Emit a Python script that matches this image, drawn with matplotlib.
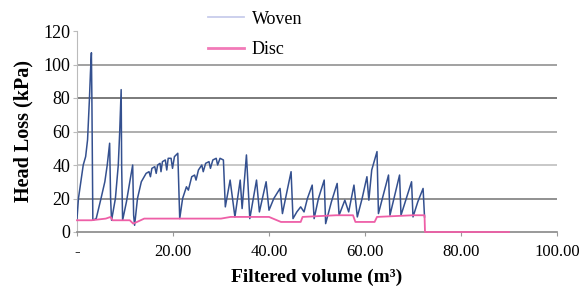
import matplotlib.pyplot as plt
from matplotlib.lines import Line2D

plt.rcParams["font.family"] = ["Liberation Serif", "DejaVu Serif"]

# Woven filter head loss (kPa) vs filtered volume (m3)
woven_x = [0.0, 0.3, 0.8, 1.3, 1.8, 2.2, 2.6, 2.8, 3.0, 3.1, 3.3,
           4.0, 5.0, 5.8, 6.3, 6.8, 7.0, 7.2,
           8.0, 8.6, 8.9, 9.2, 9.3, 9.5,
           10.3, 11.0, 11.6, 11.8, 12.0,
           12.6, 13.4, 14.4, 15.0, 15.3, 15.6, 16.2, 16.5, 16.8, 17.3, 17.5,
           17.8, 18.4, 18.7, 19.0, 19.6, 19.9, 20.3, 21.0, 21.4,
           22.0, 22.8, 23.2, 23.9, 24.5, 24.8, 25.3, 26.0, 26.3, 26.8, 27.5,
           27.8, 28.3, 29.0, 29.3, 29.8, 30.5, 30.9,
           31.9, 32.9, 34.0, 34.4, 35.3, 36.0, 37.4, 38.0, 39.4, 40.0,
           41.0, 42.3, 42.8, 43.8, 44.6, 45.0, 45.8, 46.6, 47.3, 48.0, 49.0,
           49.4, 50.3, 51.5, 51.8, 53.0, 54.2, 54.6, 55.8, 56.6, 57.7,
           58.4, 59.4, 60.4, 60.8, 61.4, 62.5, 62.8, 63.8, 64.9, 65.2, 66.2,
           67.2, 67.5, 68.6, 69.7, 70.0, 71.0, 72.1, 72.4]
woven_y = [8, 20, 30, 40, 45, 55, 80, 95, 107, 80, 7,
           8, 20, 30, 40, 53, 20, 7,
           20, 40, 60, 85, 40, 7,
           18, 30, 40, 10, 4,
           20, 30, 35, 36, 33, 38, 39, 35, 40, 41, 36,
           42, 43, 37, 44, 44, 38, 45, 47, 8,
           20, 27, 25, 33, 34, 31, 37, 40, 36, 41, 42,
           38, 43, 44, 40, 44, 43, 15,
           31, 9, 31, 14, 46, 8, 31, 12, 30, 13,
           20, 26, 11, 25, 36, 8, 12, 15, 12, 20, 28,
           8, 20, 31, 5, 18, 29, 10, 19, 12, 28,
           9, 20, 33, 19, 37, 48, 11, 22, 34, 10, 22,
           34, 10, 20, 30, 9, 18, 26, 9]

# Disc filter head loss
disc_x = [0.0, 3.0, 6.0, 7.0, 7.4, 11.0, 11.7, 12.5, 14.0, 20.0, 30.0,
          32.0, 40.0, 42.5, 46.6, 47.0, 54.0, 57.5, 58.0, 62.0, 62.5,
          70.0, 72.4, 72.5, 90.0]
disc_y = [7, 7, 8, 9, 7, 7, 5, 6, 8, 8, 8,
          9, 9, 6, 6, 9, 10, 10, 6, 6, 9,
          10, 10, 0, 0]

xticks = [0, 20, 40, 60, 80, 100]
xtick_labels = ["-", "20.00", "40.00", "60.00", "80.00", "100.00"]
yticks = [0, 20, 40, 60, 80, 100, 120]

fig = plt.figure(figsize=(5.88, 2.87), dpi=100)
ax = fig.add_axes([77 / 588, 1 - 232 / 287, 480 / 588, 201 / 287])

ax.plot(disc_x, disc_y, color="#ee5fa7", linewidth=1.3, zorder=5, clip_on=False)
ax.plot(woven_x, woven_y, color="#34508f", linewidth=1.1, zorder=4)

ax.set_xlim(0, 99)
ax.set_ylim(0, 120)
ax.set_xticks(xticks)
ax.set_xticklabels(xtick_labels)
ax.set_yticks(yticks)

for sp in ["top", "right"]:
    ax.spines[sp].set_visible(False)
ax.spines["left"].set_color("#bbbbbb")
ax.spines["bottom"].set_color("#888888")
ax.spines["bottom"].set_linewidth(1.2)

ax.yaxis.grid(True, linewidth=1.3)
grid_colors = ["#ffffff", "#888888", "#c4c4c4", "#a8a8a8", "#707070", "#9a9a9a", "#ffffff"]
for gl, c in zip(ax.get_ygridlines(), grid_colors):
    gl.set_color(c)
    if c == "#ffffff":
        gl.set_visible(False)
ax.set_axisbelow(True)

ax.tick_params(axis="x", length=3, color="#999999", labelsize=12, pad=6)
ax.tick_params(axis="y", length=3, color="#bbbbbb", labelsize=13, pad=2)

ax.set_xlabel("Filtered volume (m³)", fontsize=14, fontweight="bold", labelpad=6)
ax.set_ylabel("Head Loss (kPa)", fontsize=14.5, fontweight="bold", labelpad=7)

handles = [Line2D([], [], color="#c8cdec", linewidth=1.3),
           Line2D([], [], color="#f27ab8", linewidth=2)]
fig.legend(handles, ["Woven", "Disc"], loc="upper left",
           bbox_to_anchor=(192 / 588, 1.02), frameon=False, fontsize=13,
           handlelength=2.0, handletextpad=0.4, labelspacing=0.75)

fig.savefig("out.png", dpi=100)
